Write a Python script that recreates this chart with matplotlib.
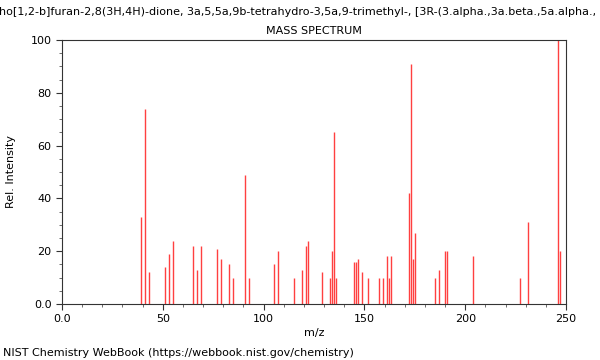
import matplotlib
matplotlib.use("Agg")
import matplotlib.pyplot as plt
from matplotlib.ticker import MultipleLocator, FixedLocator, FixedFormatter

mz = [39, 41, 43, 51, 53, 55, 65, 67, 69, 77, 79, 83, 85, 91, 93,
      105, 107, 115, 119, 121, 122, 129, 133, 134, 135, 136,
      145, 146, 147, 149, 152, 157, 159, 161, 162, 163,
      172, 173, 174, 175, 185, 187, 190, 191, 204, 227, 231, 246, 247]
intensity = [33, 74, 12, 14, 19, 24, 22, 13, 22, 21, 17, 15, 10, 49, 10,
             15, 20, 10, 13, 22, 24, 12, 10, 20, 65, 10,
             16, 16, 17, 12, 10, 10, 10, 18, 10, 18,
             42, 91, 17, 27, 10, 13, 20, 20, 18, 10, 31, 100, 20]

x_ticks = [0, 50, 100, 150, 200, 250]
x_labels = ["0.0", "50", "100", "150", "200", "250"]
y_ticks = [0, 20, 40, 60, 80, 100]
y_labels = ["0.0", "20", "40", "60", "80", "100"]

title_top = "ho[1,2-b]furan-2,8(3H,4H)-dione, 3a,5,5a,9b-tetrahydro-3,5a,9-trimethyl-, [3R-(3.alpha.,3a.beta.,5a.alpha.,"

fig = plt.figure(figsize=(6, 3.6), dpi=100)
ax = fig.add_axes([62/600, 56/360, 504/600, 264/360])
ax.vlines(mz, 0, intensity, colors="#ff4040", linewidth=1.0)
ax.set_xlim(0, 250)
ax.set_ylim(0, 100)
ax.xaxis.set_major_locator(FixedLocator(x_ticks))
ax.xaxis.set_major_formatter(FixedFormatter(x_labels))
ax.yaxis.set_major_locator(FixedLocator(y_ticks))
ax.yaxis.set_major_formatter(FixedFormatter(y_labels))
ax.xaxis.set_minor_locator(MultipleLocator(10))
ax.yaxis.set_minor_locator(MultipleLocator(5))
ax.tick_params(which="major", length=4, labelsize=8, color="#333333")
ax.tick_params(which="minor", length=2, color="#555555")
for s in ax.spines.values():
    s.set_color("#333333")
    s.set_linewidth(0.8)
ax.set_xlabel("m/z", fontsize=8)
ax.set_ylabel("Rel. Intensity", fontsize=8)
ax.yaxis.label.set_va("center")
ax.yaxis.set_label_coords((11 - 62) / 504, 0.5)
ax.xaxis.label.set_va("center")
ax.xaxis.set_label_coords(0.5, -(333 - 304) / 264)
ax.set_title("MASS SPECTRUM", fontsize=8, pad=4)
fig.text(-0.002, 1 - 12/360, title_top, fontsize=8, ha="left", va="center")
fig.text(3/600, 1 - 353/360, "NIST Chemistry WebBook (https://webbook.nist.gov/chemistry)",
         fontsize=8, ha="left", va="center")
fig.savefig("out.png", dpi=100)
